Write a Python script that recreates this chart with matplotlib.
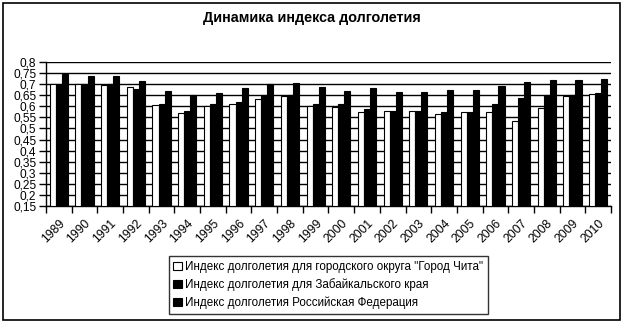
import numpy as np
import matplotlib.pyplot as plt
from matplotlib.patches import Rectangle
from matplotlib.ticker import MultipleLocator, FuncFormatter

plt.rcParams['font.family'] = ['Liberation Sans', 'DejaVu Sans']

years = [str(y) for y in range(1989, 2011)]
chita = [0.700, 0.700, 0.695, 0.687, 0.605, 0.571, 0.600, 0.611, 0.634, 0.646, 0.600,
         0.597, 0.574, 0.578, 0.578, 0.565, 0.574, 0.574, 0.533, 0.592, 0.646, 0.657]
zabaikal = [0.700, 0.700, 0.700, 0.679, 0.611, 0.580, 0.611, 0.621, 0.651, 0.651, 0.611,
            0.611, 0.589, 0.578, 0.578, 0.575, 0.575, 0.611, 0.637, 0.651, 0.651, 0.661]
russia = [0.747, 0.738, 0.735, 0.716, 0.670, 0.651, 0.661, 0.684, 0.700, 0.706, 0.687,
          0.670, 0.683, 0.666, 0.666, 0.675, 0.675, 0.693, 0.711, 0.720, 0.720, 0.725]
labels = ['Индекс долголетия для городского округа "Город Чита"',
          'Индекс долголетия для Забайкальского края',
          'Индекс долголетия Российская Федерация']

fig = plt.figure(figsize=(6.23, 3.23), dpi=100)
fig.patches.append(Rectangle((0.005, 0.01), 0.99, 0.98, transform=fig.transFigure,
                             fill=False, edgecolor='black', linewidth=1.2))
ax = fig.add_axes([0.0738, 0.3622, 0.9069, 0.4458])

x = np.arange(len(years))
w = 0.237
base = 0.15
ax.bar(x - w, np.array(chita) - base, w, bottom=base, color='white', edgecolor='black',
       linewidth=0.8, label=labels[0], zorder=3)
ax.bar(x, np.array(zabaikal) - base, w, bottom=base, color='black', edgecolor='black',
       linewidth=0.8, label=labels[1], zorder=3)
ax.bar(x + w, np.array(russia) - base, w, bottom=base, color='black', edgecolor='black',
       linewidth=0.8, label=labels[2], zorder=3)

ax.set_xlim(-0.5, len(years) - 0.5)
ax.set_ylim(0.15, 0.8)
ax.yaxis.set_major_locator(MultipleLocator(0.05))
ax.yaxis.set_major_formatter(FuncFormatter(lambda v, p: ('%g' % round(v, 2)).replace('.', ',')))
ax.grid(axis='y', color='black', linewidth=1, zorder=0)
ax.set_axisbelow(True)

ax.set_xticks(np.arange(-0.5, len(years), 1))
ax.set_xticklabels([])
ax.set_xticks(x, minor=True)
ax.set_xticklabels(years, minor=True, rotation=45, ha='right', va='top',
                   rotation_mode='anchor', fontsize=8.8)
ax.tick_params(axis='x', which='minor', length=0, pad=8)
ax.tick_params(axis='x', which='major', length=5, width=1, direction='out')
ax.tick_params(axis='y', length=5, width=1, labelsize=8.6, pad=2)

for s in ['top', 'right']:
    ax.spines[s].set_visible(False)
for s in ['left', 'bottom']:
    ax.spines[s].set_linewidth(1)

fig.text(0.5, 0.945, 'Динамика индекса долголетия', ha='center', va='center',
         fontsize=10.4, fontweight='bold')

fig.legend(loc='center', bbox_to_anchor=(0.527, 0.118), fontsize=8.4, frameon=True,
           fancybox=False, edgecolor='black', handlelength=0.7, handleheight=0.7,
           handletextpad=0.3, labelspacing=0.45, borderpad=0.4, borderaxespad=0)

plt.savefig('out.png', dpi=100)
